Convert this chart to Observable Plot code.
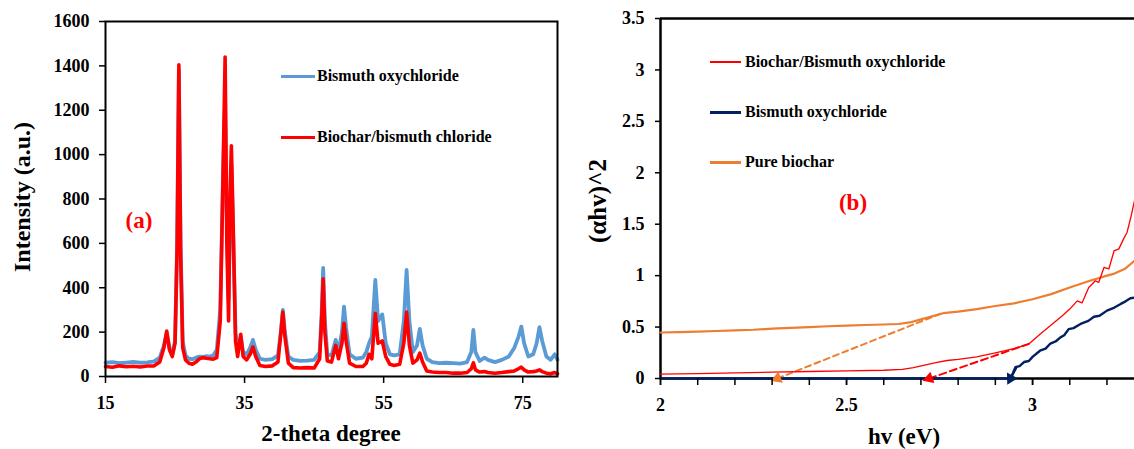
<!DOCTYPE html>
<html>
<head>
<meta charset="utf-8">
<script src="https://cdn.jsdelivr.net/npm/d3@7"></script>
<script src="https://cdn.jsdelivr.net/npm/@observablehq/plot@0.6"></script>
<style>
  html, body { margin: 0; padding: 0; background: #fff; }
  #wrap { position: relative; width: 1134px; height: 449px; overflow: hidden; background: #fff;
          font-family: "Liberation Serif", "Times New Roman", serif; font-weight: bold; color: #000; }
  .pane { position: absolute; top: 0; }
  .t { position: absolute; white-space: nowrap; line-height: 1; transform: translate(0, -50%); }
  .c { transform: translate(-50%, -50%); }
  .r { transform: translate(-50%, -50%) rotate(-90deg); }
  .sw { position: absolute; }
</style>
</head>
<body>
<div id="wrap">
  <div id="pa" class="pane" style="left:0"></div>
  <div id="pb" class="pane" style="left:570px"></div>

  <div class="t r" style="left:22px; top:197px; font-size:24px">Intensity (a.u.)</div>
  <div class="t c" style="left:331px; top:433px; font-size:23px">2-theta degree</div>
  <div class="t c" style="left:139px; top:220px; font-size:23px; color:#ff0000">(a)</div>
  <div class="sw" style="left:281px; width:34px; top:75px; height:3px; background:#5b9bd5"></div>
  <div class="t" style="left:317px; top:76px; font-size:16px">Bismuth oxychloride</div>
  <div class="sw" style="left:281px; width:34px; top:136px; height:3px; background:#ff0000"></div>
  <div class="t" style="left:317px; top:137px; font-size:16px">Biochar/bismuth chloride</div>

  <div class="t r" style="left:597px; top:201px; font-size:25px">(αhv)^2</div>
  <div class="t c" style="left:904px; top:436px; font-size:23px">hv (eV)</div>
  <div class="t c" style="left:853px; top:202px; font-size:23px; color:#ff0000">(b)</div>
  <div class="sw" style="left:710px; width:31px; top:61px; height:1.5px; background:#ff0000"></div>
  <div class="t" style="left:745px; top:62px; font-size:16px">Biochar/Bismuth oxychloride</div>
  <div class="sw" style="left:710px; width:31px; top:111px; height:2.5px; background:#002060"></div>
  <div class="t" style="left:745px; top:112px; font-size:16px">Bismuth oxychloride</div>
  <div class="sw" style="left:710px; width:31px; top:161px; height:2.5px; background:#ed7d31"></div>
  <div class="t" style="left:745px; top:162px; font-size:16px">Pure biochar</div>
</div>
<script>
// ---------- Panel (a): XRD ----------
const xrdAngle = [15.0,16.0,17.0,18.0,19.0,20.0,21.0,22.0,22.8,23.4,23.8,24.2,24.6,25.0,25.3,25.55,25.8,26.1,26.5,27.0,27.5,28.0,28.5,29.0,29.5,30.0,30.5,31.0,31.5,31.9,32.2,32.45,32.7,32.9,33.1,33.35,33.7,34.0,34.45,34.8,35.3,35.8,36.2,36.6,37.2,38.0,39.0,39.8,40.2,40.5,40.8,41.3,42.0,43.0,44.0,45.0,45.8,46.1,46.3,46.55,46.9,47.5,48.1,48.5,49.0,49.3,49.6,50.1,51.0,52.0,52.5,52.9,53.3,53.8,54.2,54.8,55.3,55.9,56.5,57.3,57.9,58.3,58.7,59.2,59.8,60.2,60.6,61.2,62.0,63.0,64.0,65.0,66.0,67.0,67.6,67.9,68.2,68.8,69.5,70.0,71.0,72.0,73.0,73.8,74.4,74.8,75.2,75.8,76.5,77.0,77.4,77.8,78.4,79.0,79.6,80.0];
const xrdBismuthOxychloride = [62,65,60,63,66,62,64,68,85,140,195,130,100,160,600,1380,600,160,95,80,78,85,90,88,92,90,95,120,300,900,1250,700,350,700,960,650,200,120,175,110,100,130,165,120,80,75,78,95,200,300,200,90,75,70,72,75,110,300,490,250,100,95,165,110,200,315,220,100,80,85,110,150,180,435,250,280,150,100,95,100,250,480,250,110,140,215,140,80,65,60,62,60,58,65,110,210,110,70,85,75,65,75,90,130,180,225,150,90,100,150,222,160,90,75,100,75];
const xrdBiocharBismuthChloride = [45,42,48,44,46,43,47,48,65,130,205,120,90,150,580,1405,560,130,75,60,55,65,80,85,82,80,78,85,250,900,1440,600,250,800,1040,700,160,90,190,90,75,100,133,90,50,45,48,65,190,290,180,60,40,38,40,38,80,270,440,200,70,65,140,80,150,240,160,60,45,45,60,100,80,285,150,160,90,55,50,55,150,290,140,60,75,105,65,25,20,18,18,15,15,18,35,62,30,20,22,18,15,18,22,25,35,42,30,20,22,25,30,22,15,12,18,12];
const xrdTicks = [15, 35, 55, 75];
const intensityTicks = [0, 200, 400, 600, 800, 1000, 1200, 1400, 1600];

// ---------- Panel (b): Tauc plot ----------
const hvPureBiochar = [2.00,2.05,2.10,2.15,2.20,2.25,2.30,2.35,2.40,2.45,2.50,2.55,2.60,2.64,2.67,2.70,2.73,2.76,2.80,2.85,2.90,2.95,3.00,3.05,3.10,3.15,3.20,3.22,3.25,3.274];
const tPureBiochar  = [0.447,0.450,0.455,0.462,0.468,0.474,0.484,0.493,0.500,0.508,0.515,0.520,0.525,0.530,0.545,0.575,0.605,0.635,0.650,0.675,0.705,0.730,0.770,0.820,0.885,0.945,1.000,1.020,1.070,1.145];
const hvComposite = [2.00,2.10,2.20,2.30,2.40,2.50,2.60,2.65,2.68,2.71,2.74,2.77,2.80,2.85,2.90,2.95,2.99,3.02,3.05,3.08,3.10,3.12,3.133,3.151,3.169,3.178,3.192,3.205,3.219,3.232,3.245,3.254,3.265,3.274];
const tComposite  = [0.042,0.048,0.055,0.062,0.068,0.074,0.080,0.088,0.105,0.130,0.155,0.175,0.185,0.210,0.250,0.290,0.335,0.430,0.520,0.610,0.675,0.755,0.735,0.885,0.950,0.935,1.080,1.065,1.240,1.260,1.360,1.420,1.580,1.730];
const hvBiOCl = [2.00,2.941,2.954,2.965,2.977,2.99,3.00,3.02,3.035,3.048,3.062,3.075,3.085,3.097,3.11,3.129,3.15,3.165,3.18,3.20,3.22,3.237,3.25,3.263,3.274];
const tBiOCl  = [0,0,0.11,0.12,0.16,0.17,0.21,0.27,0.29,0.34,0.36,0.40,0.42,0.48,0.49,0.53,0.56,0.60,0.61,0.66,0.69,0.725,0.75,0.78,0.785];
// band-gap tangent lines (tip at the axis first)
const tangentBiocharHv = [2.314, 2.753], tangentBiocharT = [0, 0.63];
const tangentCompositeHv = [2.722, 2.99], tangentCompositeT = [0, 0.337];
const tangentBiOClHv = [2.941, 2.956], tangentBiOClT = [0, 0.1];
const hvMinorTicks = [2.0,2.1,2.2,2.3,2.4,2.5,2.6,2.7,2.8,2.9,3.0,3.1,3.2];
const hvLabelTicks = [2, 2.5, 3];
const tTicks = [0, 0.5, 1, 1.5, 2, 2.5, 3, 3.5];

const BLUE = "#5b9bd5", RED = "#ff0000", ORANGE = "#ed7d31", NAVY = "#002060";
const fontStyle = {fontFamily: "'Liberation Serif', 'Times New Roman', serif", fontWeight: "bold", background: "white", color: "black", overflow: "visible"};

// Panel (a)
const xrdRows = xrdAngle.map((a, i) => ({angle: a, biocl: xrdBismuthOxychloride[i], comp: xrdBiocharBismuthChloride[i]}));
const pa = Plot.plot({
  width: 570, height: 449,
  marginLeft: 105, marginRight: 13, marginTop: 21, marginBottom: 73,
  style: fontStyle,
  x: {domain: [15, 80]},
  y: {domain: [0, 1600]},
  marks: [
    Plot.line(xrdRows, {x: "angle", y: "biocl", stroke: BLUE, strokeWidth: 3.8, curve: "linear"}),
    Plot.line(xrdRows, {x: "angle", y: "comp", stroke: RED, strokeWidth: 3.6, curve: "linear"}),
    Plot.frame({stroke: "black", strokeWidth: 2}),
    Plot.axisX({ticks: xrdTicks, tickFormat: d => String(d), tickSize: 7, tickPadding: 13, fontSize: 18, strokeWidth: 1.5, label: null}),
    Plot.axisY({ticks: intensityTicks, tickFormat: d => String(d), tickSize: 6, tickPadding: 10, fontSize: 18, strokeWidth: 1.5, label: null})
  ]
});
document.getElementById("pa").appendChild(pa);

// Panel (b)
const bW = 564, bH = 449, bML = 90, bMR = 0, bMT = 18, bMB = 71;
const hvDomain = [2, 3.274], tDomain = [0, 3.5];
const sx = d3.scaleLinear(hvDomain, [bML, bW - bMR]);
const sy = d3.scaleLinear(tDomain, [bH - bMB, bMT]);
function rows(xs, ys) { return xs.map((x, i) => ({x, y: ys[i]})); }
function head(xs, ys, color) {
  const vx = sx(xs[0]) - sx(xs[1]), vy = sy(ys[0]) - sy(ys[1]);
  const ang = Math.atan2(vx, -vy) * 180 / Math.PI;
  return Plot.dot([{x: xs[0], y: ys[0], a: ang}], {x: "x", y: "y", rotate: "a", symbol: "triangle", r: 4.5, fill: color, stroke: "none"});
}
const pb = Plot.plot({
  width: bW, height: bH,
  marginLeft: bML, marginRight: bMR, marginTop: bMT, marginBottom: bMB,
  style: fontStyle,
  x: {domain: hvDomain},
  y: {domain: tDomain},
  marks: [
    Plot.ruleY([3.5], {stroke: "black", strokeWidth: 2.5}),
    Plot.ruleX([2], {stroke: "black", strokeWidth: 2.5}),
    Plot.ruleY([0], {stroke: "black", strokeWidth: 2.5}),
    Plot.line(rows(tangentBiocharHv, tangentBiocharT), {x: "x", y: "y", stroke: ORANGE, strokeWidth: 2, strokeDasharray: "6,4"}),
    Plot.line(rows(tangentCompositeHv, tangentCompositeT), {x: "x", y: "y", stroke: RED, strokeWidth: 2, strokeDasharray: "7,4"}),
    Plot.line(rows(tangentBiOClHv, tangentBiOClT), {x: "x", y: "y", stroke: NAVY, strokeWidth: 2}),
    Plot.line(rows(hvPureBiochar, tPureBiochar), {x: "x", y: "y", stroke: ORANGE, strokeWidth: 2.2}),
    Plot.line(rows(hvComposite, tComposite), {x: "x", y: "y", stroke: RED, strokeWidth: 1.3}),
    Plot.line(rows(hvBiOCl, tBiOCl), {x: "x", y: "y", stroke: NAVY, strokeWidth: 2.4}),
    head(tangentBiocharHv, tangentBiocharT, ORANGE),
    head(tangentCompositeHv, tangentCompositeT, RED),
    head(tangentBiOClHv, tangentBiOClT, NAVY),
    Plot.axisX({ticks: hvMinorTicks, tickFormat: () => "", tickSize: 7, strokeWidth: 1.5, label: null}),
    Plot.axisX({ticks: hvLabelTicks, tickFormat: d => String(d), tickSize: 7, tickPadding: 13, fontSize: 18, strokeWidth: 1.5, label: null}),
    Plot.axisY({ticks: tTicks, tickFormat: d => String(d), tickSize: 5, tickPadding: 11, fontSize: 18, strokeWidth: 1.5, label: null})
  ]
});
document.getElementById("pb").appendChild(pb);
</script>
</body>
</html>
